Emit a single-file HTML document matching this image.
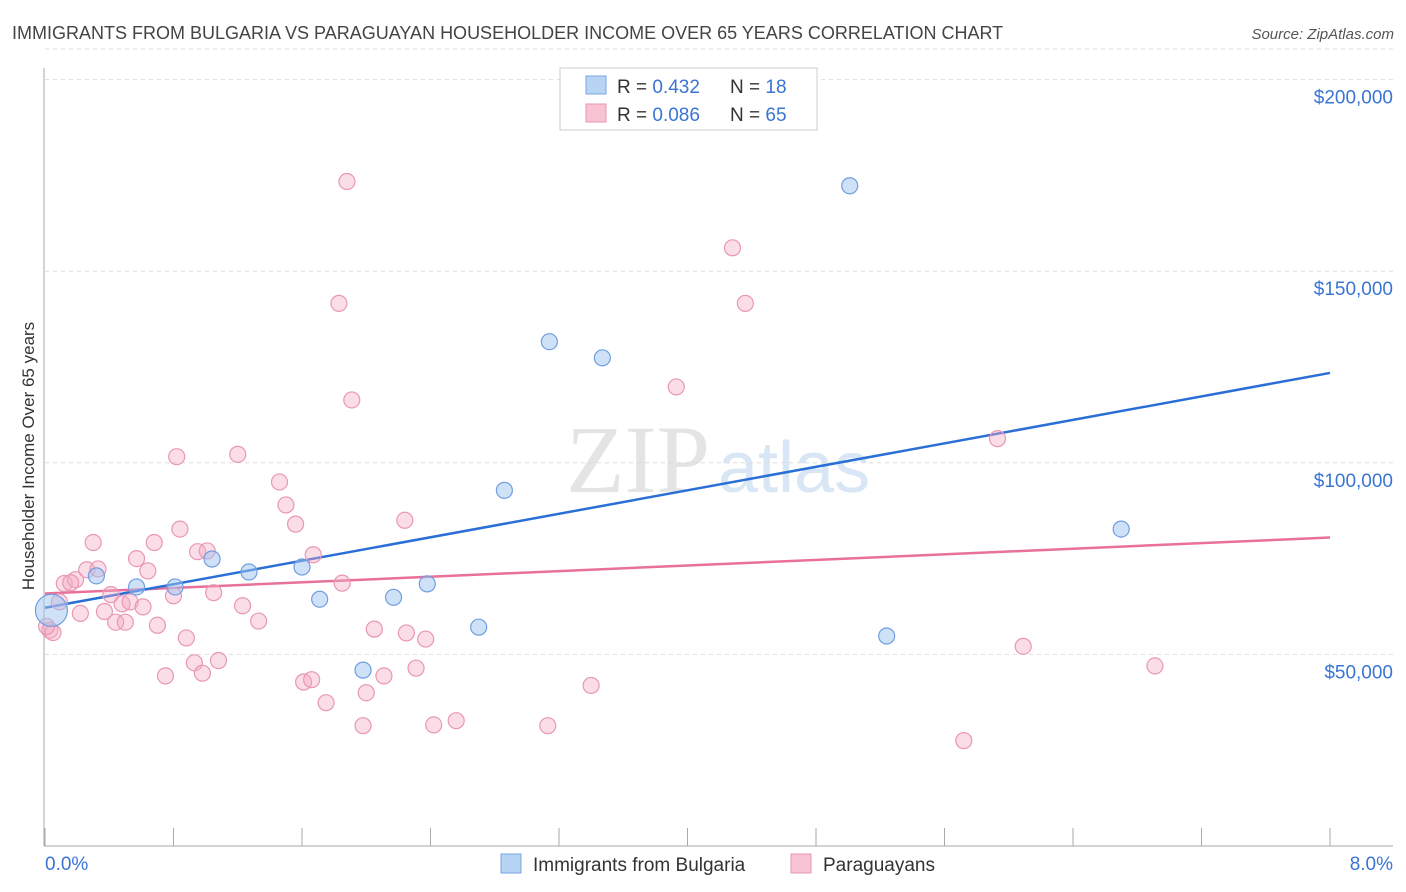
<!DOCTYPE html>
<html><head><meta charset="utf-8"><style>
body{margin:0;background:#fff;font-family:"Liberation Sans",sans-serif;}
svg{display:block}
</style></head><body>
<svg id="chart" width="1406" height="892">
<text x="12" y="39" font-size="18" fill="#444">IMMIGRANTS FROM BULGARIA VS PARAGUAYAN HOUSEHOLDER INCOME OVER 65 YEARS CORRELATION CHART</text>
<text x="1394" y="39" font-size="15" fill="#555" font-style="italic" text-anchor="end">Source: ZipAtlas.com</text>
<text x="710" y="492" font-size="96" fill="#e4e4e4" font-family="Liberation Serif,serif" text-anchor="end">ZIP</text>
<text x="718" y="492" font-size="72" fill="#d8e6f5" text-anchor="start">atlas</text>
<text transform="translate(34,456) rotate(-90)" font-size="17" fill="#333" text-anchor="middle">Householder Income Over 65 years</text>
<g id="grid"></g><g id="axes"></g><g id="lines"></g><g id="pts"></g>
<g>
<rect x="560" y="68" width="257" height="62" fill="#fff" stroke="#ccc"/>
<rect x="586" y="76" width="20" height="18" fill="#b8d4f5" stroke="#7aa6e0"/>
<rect x="586" y="104" width="20" height="18" fill="#f8c4d4" stroke="#e898b3"/>
<text x="617" y="93" font-size="19" fill="#333">R = <tspan fill="#3a74d4">0.432</tspan><tspan x="730">N = </tspan><tspan fill="#3a74d4">18</tspan></text>
<text x="617" y="121" font-size="19" fill="#333">R = <tspan fill="#3a74d4">0.086</tspan><tspan x="730">N = </tspan><tspan fill="#3a74d4">65</tspan></text>
</g>
<g>
<rect x="501" y="854" width="20" height="19" fill="#b8d4f5" stroke="#7aa6e0"/>
<text x="533" y="871" font-size="19" fill="#333">Immigrants from Bulgaria</text>
<rect x="791" y="854" width="20" height="19" fill="#f8c4d4" stroke="#e898b3"/>
<text x="823" y="871" font-size="19" fill="#333">Paraguayans</text>
</g>
</svg>
<script>
const xTicks=[0,0.8,1.6,2.4,3.2,4.0,4.8,5.6,6.4,7.2,8.0];
const yTicks=[50000,100000,150000,200000];
const yTickLabels=["$50,000","$100,000","$150,000","$200,000"];
const blueX=[0.04,0.32,0.57,0.81,1.04,1.27,1.60,1.71,1.98,2.17,2.38,2.70,2.86,3.14,3.47,5.01,5.24,6.70];
const blueY=[61500,70500,67600,67600,74900,71500,72800,64400,45900,64900,68400,57100,92800,131600,127400,172300,54800,82700];
const pinkX=[0.03,0.05,0.01,0.09,0.12,0.19,0.16,0.22,0.26,0.30,0.33,0.37,0.41,0.44,0.48,0.50,0.53,0.57,0.61,0.64,0.68,0.70,0.75,0.80,0.82,0.84,0.88,0.93,0.95,0.98,1.01,1.05,1.08,1.20,1.23,1.33,1.46,1.50,1.56,1.61,1.66,1.67,1.75,1.83,1.85,1.88,1.91,1.98,2.00,2.05,2.11,2.24,2.25,2.31,2.37,2.42,2.56,3.13,3.40,3.93,4.28,4.36,5.72,5.93,6.09,6.91];
const pinkY=[56300,55700,57300,63700,68500,69500,68700,60700,72100,79200,72300,61200,65600,58400,63200,58400,63700,75000,62400,71800,79200,57600,44400,65300,101600,82700,54300,47800,76800,45100,77000,66100,48400,102200,62700,58700,95000,89000,84000,42800,43400,76000,37400,141600,68600,173400,116400,31400,40000,56600,44400,85000,55600,46400,54000,31600,32700,31400,41900,119800,156100,141600,27500,106300,52100,47000];
const X=v=>45+v/8*1285, Y=v=>846-v/50000*191.6;
const NS="http://www.w3.org/2000/svg";
function mk(parent,tag,attrs){const e=document.createElementNS(NS,tag);for(const k in attrs)e.setAttribute(k,attrs[k]);document.getElementById(parent).appendChild(e);return e;}
yTicks.forEach((t,i)=>{
 const g=mk('grid','line',{x1:45,x2:1393,y1:Y(t),y2:Y(t),stroke:'#ddd','stroke-dasharray':'4,4'});
 
 
 const l=mk('axes','text',{x:1393,y:Y(t)+24,'font-size':19,fill:'#3a74d4','text-anchor':'end'});
 l.textContent=yTickLabels[i];
 
 
});
const tg=mk('grid','line',{x1:45,x2:1393,y1:Y(208000),y2:Y(208000),stroke:'#ddd','stroke-dasharray':'4,4'});


const ya=mk('axes','line',{x1:44,x2:44,y1:68,y2:846,stroke:'#aaa'});


const xa=mk('axes','line',{x1:44,x2:1393,y1:846,y2:846,stroke:'#aaa'});


xTicks.forEach(t=>{
 const k=mk('axes','line',{x1:X(t),x2:X(t),y1:828,y2:846,stroke:'#aaa'});
 
 
});
const l0=mk('axes','text',{x:45,y:870,'font-size':19,fill:'#3a74d4'});l0.textContent=xTicks[0].toFixed(1)+'%';


const l1=mk('axes','text',{x:1393,y:870,'font-size':19,fill:'#3a74d4','text-anchor':'end'});l1.textContent=xTicks[xTicks.length-1].toFixed(1)+'%';


function fit(xs,ys){const n=xs.length,mx=xs.reduce((a,b)=>a+b)/n,my=ys.reduce((a,b)=>a+b)/n;let sxy=0,sxx=0;xs.forEach((x,i)=>{sxy+=(x-mx)*(ys[i]-my);sxx+=(x-mx)**2});const b=sxy/sxx;return [my-b*mx,b];}
[[pinkX,pinkY,'#e8709a','pink-trend-line'],[blueX,blueY,'#2a6fd6','blue-trend-line']].forEach(([xs,ys,c,n])=>{
 const [a,b]=fit(xs,ys);
 const ln=mk('lines','line',{x1:X(0),y1:Y(a),x2:X(8),y2:Y(a+b*8),stroke:c,'stroke-width':2.5});
 
 
});
pinkX.forEach((x,i)=>{
 const c=mk('pts','circle',{cx:X(x),cy:Y(pinkY[i]),r:8,fill:'rgba(245,170,195,0.4)',stroke:'#e898b3','stroke-width':1.2});
 
 
});
blueX.forEach((x,i)=>{
 const c=mk('pts','circle',{cx:X(x),cy:Y(blueY[i]),r:i===0?16:8,fill:'rgba(160,195,240,0.5)',stroke:'#6f9ee0','stroke-width':1.2});
 
 
});
</script>
</body></html>
